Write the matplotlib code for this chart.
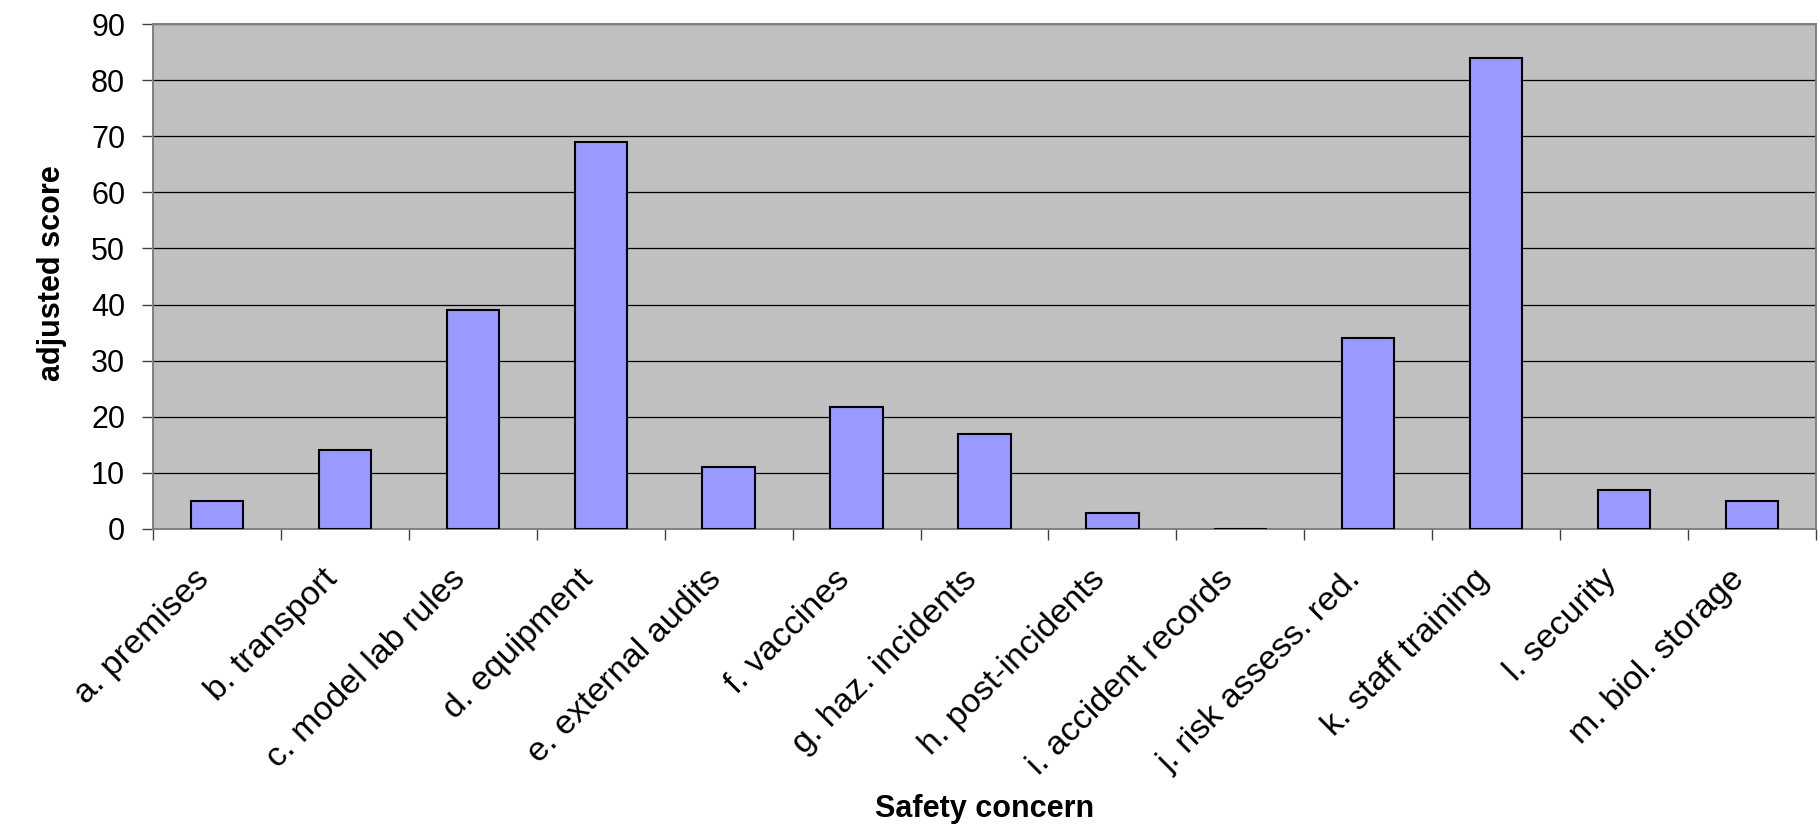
import numpy as np
import matplotlib
matplotlib.use("Agg")
import matplotlib.pyplot as plt
from matplotlib.transforms import ScaledTranslation

categories = [
    "a. premises", "b. transport", "c. model lab rules", "d. equipment",
    "e. external audits", "f. vaccines", "g. haz. incidents", "h. post-incidents",
    "i. accident records", "j. risk assess. red.", "k. staff training",
    "l. security", "m. biol. storage",
]
scores = [5, 14, 39, 69, 11, 21.7, 17, 2.8, 0, 34, 84, 7, 5]
y_ticks = [0, 10, 20, 30, 40, 50, 60, 70, 80, 90]

plt.rcParams["font.family"] = ["Liberation Sans", "DejaVu Sans"]

W, H = 1818, 827
fig = plt.figure(figsize=(W / 100, H / 100), dpi=100)
left, right, top, bottom = 153, 1816, 24, 529
ax = fig.add_axes([left / W, 1 - bottom / H, (right - left) / W, (bottom - top) / H])

x = np.arange(len(categories))
ax.set_facecolor("#C0C0C0")
ax.bar(x, scores, width=0.41, color="#9999FF", edgecolor="black",
       linewidth=1.5, zorder=3)

ax.set_xlim(-0.5, len(categories) - 0.5)
ax.set_ylim(0, 90)
ax.set_yticks(y_ticks)
ax.yaxis.grid(True, color="black", linewidth=0.9, zorder=1)
ax.set_axisbelow(True)

# tick marks sit on the category boundaries, labels on the centres
ax.set_xticks(np.arange(-0.5, len(categories), 1.0))
ax.set_xticklabels([])
ax.set_xticks(x, minor=True)
ax.set_xticklabels(categories, minor=True, rotation=45, ha="right",
                   va="top", rotation_mode="anchor", fontsize=24.5)
ax.tick_params(axis="x", which="minor", length=0, pad=25)
ax.tick_params(axis="x", which="major", length=8, width=1.0, color="#404040")
ax.tick_params(axis="y", length=8, width=1.0, color="#404040", labelsize=22, pad=12)

shift = ScaledTranslation(-23 / 100, 0, fig.dpi_scale_trans)
for lab in ax.get_xticklabels(minor=True):
    lab.set_transform(lab.get_transform() + shift)

for side in ["left", "right", "top", "bottom"]:
    ax.spines[side].set_color("#808080")
    ax.spines[side].set_linewidth(1.4)

fig.text(52 / W, 1 - 273 / H, "adjusted score", rotation=90, fontsize=22,
         fontweight="bold", ha="center", va="center")
fig.text(985 / W, 1 - 809 / H, "Safety concern", fontsize=22,
         fontweight="bold", ha="center", va="center")

fig.savefig("out.png", dpi=100, facecolor="white")
